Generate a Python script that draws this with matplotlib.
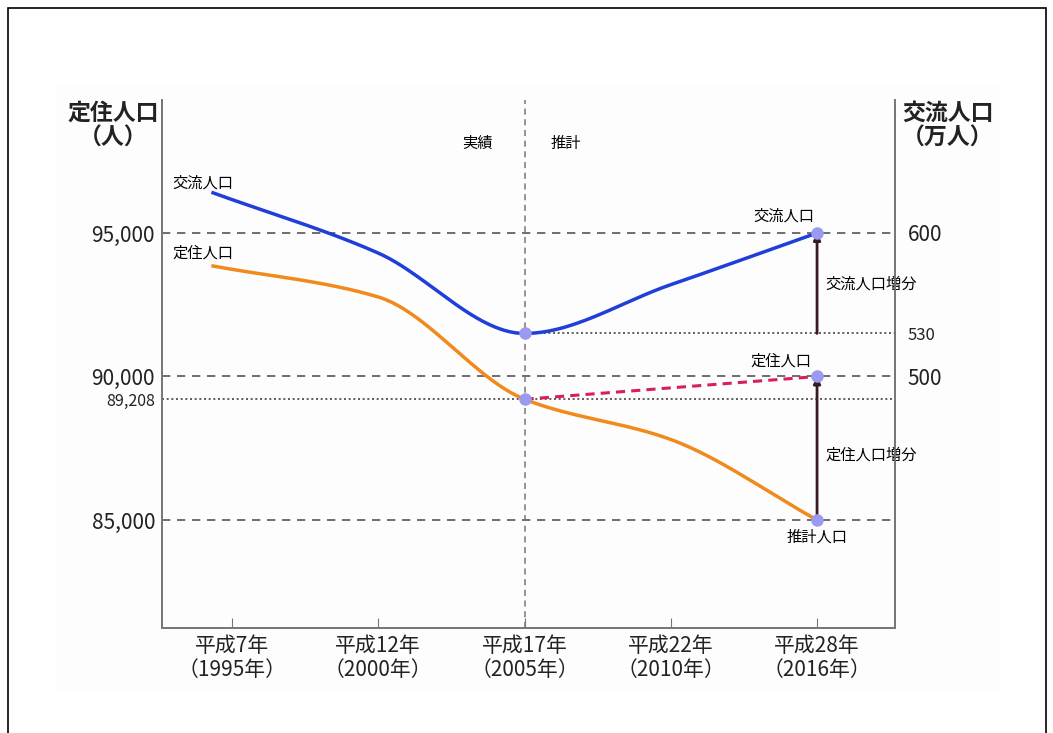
# -*- coding: utf-8 -*-
import numpy as np
import matplotlib.pyplot as plt
from matplotlib.patches import Rectangle

plt.rcParams['font.family'] = ['Noto Sans CJK JP', 'DejaVu Sans']

# ====================== Data ======================
year_labels = ['平成7年\n（1995年）', '平成12年\n（2000年）', '平成17年\n（2005年）',
               '平成22年\n（2010年）', '平成28年\n（2016年）']
year_pos = np.arange(len(year_labels))

# curves start a little left of the first tick
line_x = np.array([-0.13, 1, 2, 3, 4])
kouryu = np.array([628, 586, 530, 564, 600])            # 交流人口 (万人), right axis
teiju = np.array([93850, 92770, 89208, 87805, 85000])   # 定住人口 (人), left axis

target_x = np.array([2, 4])
target_teiju = np.array([89208, 90000])

left_ticks = [95000, 90000, 85000]
right_ticks = [600, 530, 500]


def pchip(x, y, n=200):
    # monotone cubic (Fritsch-Carlson), just for drawing a smooth line
    x = np.asarray(x, float); y = np.asarray(y, float)
    h = np.diff(x); d = np.diff(y) / h
    m = np.zeros_like(y)
    for k in range(1, len(x) - 1):
        if d[k - 1] * d[k] > 0:
            w1 = 2 * h[k] + h[k - 1]; w2 = h[k] + 2 * h[k - 1]
            m[k] = (w1 + w2) / (w1 / d[k - 1] + w2 / d[k])
    m[0] = d[0]; m[-1] = d[-1]
    xs = np.linspace(x[0], x[-1], n)
    idx = np.clip(np.searchsorted(x, xs) - 1, 0, len(h) - 1)
    t = (xs - x[idx]) / h[idx]
    h00 = 2 * t**3 - 3 * t**2 + 1; h10 = t**3 - 2 * t**2 + t
    h01 = -2 * t**3 + 3 * t**2; h11 = t**3 - t**2
    ys = h00 * y[idx] + h10 * h[idx] * m[idx] + h01 * y[idx + 1] + h11 * h[idx] * m[idx + 1]
    return xs, ys


# ====================== Figure ======================
fig = plt.figure(figsize=(10.53, 7.33), dpi=100)
fig.patches.append(Rectangle((8 / 1053, -0.05), 1038 / 1053, 1.05 - 8 / 733,
                             transform=fig.transFigure, fill=False,
                             edgecolor='black', linewidth=1.2))
fig.patches.append(Rectangle((57 / 1053, 43 / 733), 943 / 1053, 605 / 733,
                             transform=fig.transFigure, facecolor='#fdfdfd',
                             edgecolor='none', zorder=-1))

ax = fig.add_axes([162 / 1053, 105 / 733, 733 / 1053, 528 / 733])
ax.patch.set_alpha(0)
ylo, yhi = 81237, 99634
ax.set_ylim(ylo, yhi)
ax.set_xlim(-0.479, 4.533)

ax2 = ax.twinx()
ax2.set_ylim(500 + (ylo - 90000) / 50, 500 + (yhi - 90000) / 50)

for a in (ax, ax2):
    a.spines['top'].set_visible(False)
    for s in ('left', 'right', 'bottom'):
        a.spines[s].set_color('#777777')
        a.spines[s].set_linewidth(1.3)

# reference lines
gl = dict(color='#555555', linewidth=1.2, dashes=(5, 4), zorder=1)
for v in left_ticks:
    ax.axhline(v, **gl)
ax.axhline(teiju[2], color='#444444', linewidth=1.2, linestyle=(0, (1.2, 1.6)), zorder=1)
ax2.plot([line_x[2], ax.get_xlim()[1]], [kouryu[2], kouryu[2]], color='#444444',
         linewidth=1.2, linestyle=(0, (1.2, 1.6)), zorder=1)
ax.axvline(year_pos[2], color='#777777', linewidth=1.1, dashes=(4, 3), zorder=1)

# curves
xs, ys = pchip(line_x, kouryu)
ax2.plot(xs, ys, color='#1f3fd8', linewidth=2.5, zorder=3)
xs, ys = pchip(line_x, teiju)
ax.plot(xs, ys, color='#f08a1c', linewidth=2.5, zorder=3)
ax.plot(target_x, target_teiju, color='#d81f5a', linewidth=2.2, dashes=(3, 2), zorder=3)

# arrows
arr = dict(arrowstyle='-|>', color='#3a1a28', lw=2, mutation_scale=10, shrinkA=0, shrinkB=0)
ax2.annotate('', xy=(4, kouryu[-1]), xytext=(4, kouryu[2]), arrowprops=arr, zorder=4)
ax.annotate('', xy=(4, target_teiju[-1]), xytext=(4, teiju[-1]), arrowprops=arr, zorder=4)

# markers
mk = dict(marker='o', markersize=8, color='#9a9af0', linestyle='None', zorder=5)
ax2.plot([line_x[2], line_x[4]], [kouryu[2], kouryu[4]], **mk)
ax.plot([line_x[2], line_x[4], target_x[1]], [teiju[2], teiju[4], target_teiju[1]], **mk)

# ticks
ax.set_xticks(year_pos)
ax.set_xticklabels(year_labels, fontsize=15, color='#222222', linespacing=1.1)
ax.tick_params(axis='x', direction='in', length=7, color='#777777', pad=5)
ax.set_yticks(left_ticks + [int(teiju[2])])
ax.set_yticklabels([f'{v:,}' for v in left_ticks] + [f'{teiju[2]:,}'], color='#222222')
for lab in ax.get_yticklabels()[:3]:
    lab.set_fontsize(15)
ax.get_yticklabels()[3].set_fontsize(11.5)
ax.tick_params(axis='y', length=0, pad=5)

ax2.set_yticks(right_ticks)
ax2.set_yticklabels([str(v) for v in right_ticks], color='#222222')
for i, lab in enumerate(ax2.get_yticklabels()):
    lab.set_fontsize(12 if right_ticks[i] == 530 else 15)
ax2.tick_params(axis='y', length=0, pad=9)
ax2.tick_params(axis='x', bottom=False, labelbottom=False)

# texts
fs = 11
ax.text(1.68, 98136, '実績', fontsize=fs, ha='center', va='center')
ax.text(2.28, 98136, '推計', fontsize=fs, ha='center', va='center')
ax.text(-0.2, 96742, '交流人口', fontsize=fs, ha='center', va='center')
ax.text(-0.2, 94303, '定住人口', fontsize=fs, ha='center', va='center')
ax.text(3.77, 95592, '交流人口', fontsize=fs, ha='center', va='center')
ax.text(3.75, 90523, '定住人口', fontsize=fs, ha='center', va='center')
ax.text(4.0, 84408, '推計人口', fontsize=fs, ha='center', va='center')
ax.text(4.06, 93223, '交流人口増分', fontsize=fs, ha='left', va='center')
ax.text(4.06, 87265, '定住人口増分', fontsize=fs, ha='left', va='center')

fig.text(113 / 1053, 1 - 102 / 733, '定住人口\n（人）', fontsize=16.5, fontweight='bold',
         ha='center', va='top', multialignment='center', linespacing=1.1, color='#222222')
fig.text(948 / 1053, 1 - 102 / 733, '交流人口\n（万人）', fontsize=16.5, fontweight='bold',
         ha='center', va='top', multialignment='center', linespacing=1.1, color='#222222')

fig.savefig('out.png', dpi=100)
